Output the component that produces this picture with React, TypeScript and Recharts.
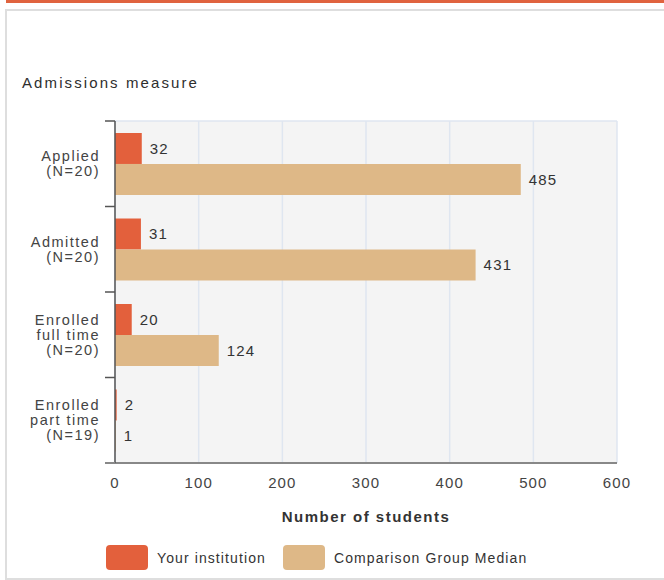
import React from "react";
import {
  BarChart,
  Bar,
  XAxis,
  YAxis,
  CartesianGrid,
  LabelList,
} from "recharts";

const categories = [
  "Applied\n(N=20)",
  "Admitted\n(N=20)",
  "Enrolled\nfull time\n(N=20)",
  "Enrolled\npart time\n(N=19)",
];
const yourInstitution = [32, 31, 20, 2];
const comparisonMedian = [485, 431, 124, 1];
const xTicks = [0, 100, 200, 300, 400, 500, 600];

const series = [
  { key: "yours", name: "Your institution", color: "#e3603c" },
  { key: "median", name: "Comparison Group Median", color: "#deb887" },
];

const data = categories.map((label, i) => ({
  label,
  yours: yourInstitution[i],
  median: comparisonMedian[i],
}));

const FONT = '"Liberation Sans", Arial, sans-serif';
const LINE_H = 15;

const CategoryTick = (props: any) => {
  const { x, y, payload, index, visibleTicksCount } = props;
  const lines = String(payload.value).split("\n");
  const half = payload.offset ?? 42.75;
  const first = y - ((lines.length - 1) * LINE_H) / 2 + 5;
  const last = index === visibleTicksCount - 1;
  return (
    <g>
      <line x1={x + 5} x2={x + 15} y1={y - half} y2={y - half} stroke="#555" strokeWidth={1.5} />
      {last && (
        <line x1={x + 5} x2={x + 15} y1={y + half} y2={y + half} stroke="#888" strokeWidth={2} />
      )}
      <text
        textAnchor="end"
        fill="#444"
        fontSize={14.5}
        fontFamily={FONT}
        style={{ letterSpacing: 1.5 }}
      >
        {lines.map((l, i) => (
          <tspan key={i} x={x} y={first + i * LINE_H}>
            {l}
          </tspan>
        ))}
      </text>
    </g>
  );
};

export default function App() {
  return (
    <div
      style={{
        position: "absolute",
        left: 0,
        top: 0,
        width: 664,
        height: 580,
        background: "#fff",
        overflow: "hidden",
        fontFamily: FONT,
      }}
    >
      <div style={{ position: "absolute", left: 6, top: 0, width: 700, height: 3, background: "#e0633f" }} />
      <div
        style={{
          position: "absolute",
          left: 5,
          top: 9,
          width: 700,
          height: 567,
          border: "2px solid #dedede",
        }}
      />
      <div
        style={{
          position: "absolute",
          left: 22,
          top: 74,
          fontSize: 15,
          letterSpacing: 2.1,
          color: "#2e2e2e",
        }}
      >
        Admissions measure
      </div>

      <div style={{ position: "absolute", left: 0, top: 0 }}>
        <BarChart
          width={664}
          height={580}
          data={data}
          layout="vertical"
          margin={{ top: 121, right: 47, bottom: 57, left: 0 }}
          barCategoryGap="14%"
          barGap={0}
        >
          <CartesianGrid
            fill="#f4f4f4"
            stroke="#dfe6f0"
            strokeWidth={1.5}
            horizontalPoints={[121]}
          />
          <XAxis
            type="number"
            domain={[0, 600]}
            ticks={xTicks}
            tickLine={false}
            tickSize={0}
            tickMargin={14}
            height={60}
            axisLine={{ stroke: "#888", strokeWidth: 2 }}
            tick={{ fill: "#444", fontSize: 15, fontFamily: FONT, style: { letterSpacing: 1.1 } } as any}
            label={{
              value: "Number of students",
              position: "insideBottom",
              offset: 1,
              fill: "#333",
              fontSize: 15,
              fontWeight: 700,
              fontFamily: FONT,
              style: { letterSpacing: 1.5 },
            } as any}
          />
          <YAxis
            type="category"
            dataKey="label"
            width={115}
            interval={0}
            tickLine={false}
            tickSize={0}
            tickMargin={15}
            axisLine={{ stroke: "#555", strokeWidth: 1.5 }}
            tick={<CategoryTick />}
          />
          {series.map((s) => (
            <Bar key={s.key} dataKey={s.key} name={s.name} fill={s.color} isAnimationActive={false}>
              <LabelList
                dataKey={s.key}
                position="right"
                offset={8}
                fill="#333"
                fontSize={15}
                fontFamily={FONT}
                style={{ letterSpacing: 1.2 }}
              />
            </Bar>
          ))}
        </BarChart>
      </div>

      <div
        style={{
          position: "absolute",
          left: 106,
          top: 545,
          display: "flex",
          alignItems: "center",
          fontSize: 14,
          letterSpacing: 1.1,
          color: "#333",
        }}
      >
        {series.map((s) => (
          <div key={s.key} style={{ display: "flex", alignItems: "center", marginRight: 17 }}>
            <div style={{ width: 42, height: 25, borderRadius: 4, background: s.color, marginRight: 9 }} />
            <span>{s.name}</span>
          </div>
        ))}
      </div>
    </div>
  );
}
